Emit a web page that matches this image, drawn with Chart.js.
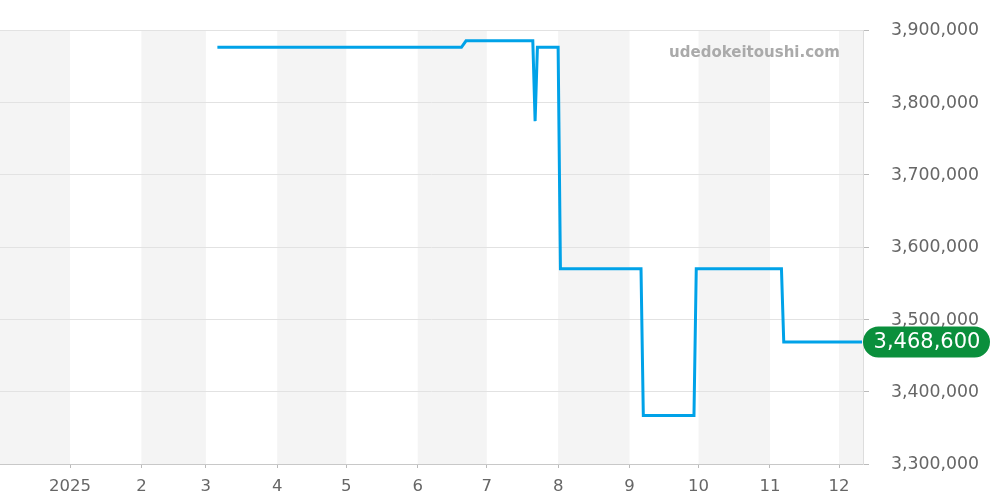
<!doctype html>
<html lang="ja">
<head>
    <meta charset="UTF-8">
    <script src="https://cdn.jsdelivr.net/npm/chart.js@4.4.1/dist/chart.umd.min.js"></script>
    <title>Price history</title>
    <style>
        * { margin: 0; padding: 0; box-sizing: border-box; }
        body { background: #fff; }
        .wrap { width: 1000px; height: 500px; position: relative; }
    </style>
</head>
<body>
<div class="wrap">
    <canvas id="canvas" width="1000" height="500"></canvas>
</div>
<script>
    // dates of the price points (2025)
    const dates = [
        '2025-03-06', '2025-06-20', '2025-06-22', '2025-07-21', '2025-07-22',
        '2025-07-23', '2025-08-01', '2025-08-02', '2025-09-06', '2025-09-07',
        '2025-09-29', '2025-09-30', '2025-11-06', '2025-11-07', '2025-12-11'
    ];
    // prices (yen)
    const prices = [
        3876000, 3876000, 3885000, 3885000, 3774000,
        3876000, 3876000, 3570000, 3570000, 3367000,
        3367000, 3570000, 3570000, 3468600, 3468600
    ];
    const yTicks = [3300000, 3400000, 3500000, 3600000, 3700000, 3800000, 3900000];
    const monthTicks = ['2025-01-01', '2025-02-01', '2025-03-01', '2025-04-01', '2025-05-01', '2025-06-01',
        '2025-07-01', '2025-08-01', '2025-09-01', '2025-10-01', '2025-11-01', '2025-12-01'];
    const lastPrice = 3468600;
    const watermark = 'udedokeitoushi.com';

    const day = 86400000;
    const toMs = (s) => Date.parse(s + 'T00:00:00Z');
    const xMin = toMs('2024-12-01') + 0.58 * day;
    const xMax = toMs('2025-12-11') + 0.42 * day;
    const fmt = (v) => v.toLocaleString('en-US');

    // alternating month bands behind the chart
    const bands = {
        id: 'bands',
        beforeDraw(chart) {
            const {ctx, chartArea: a, scales: {x}} = chart;
            ctx.save();
            ctx.beginPath();
            ctx.rect(a.left, a.top, a.right - a.left, a.bottom - a.top);
            ctx.clip();
            ctx.fillStyle = '#f4f4f4';
            for (let i = 0; i < 13; i++) {
                if (i % 2) continue;
                const s = Date.UTC(2024, 11 + i, 1);
                const e = Date.UTC(2024, 12 + i, 1);
                const l = x.getPixelForValue(s), r = x.getPixelForValue(e);
                ctx.fillRect(l, a.top, r - l, a.bottom - a.top);
            }
            ctx.restore();
        }
    };

    // watermark and last price badge
    const extras = {
        id: 'extras',
        afterDraw(chart) {
            const {ctx, chartArea: a, scales: {y}} = chart;
            ctx.save();
            ctx.font = 'bold 15px "DejaVu Sans"';
            ctx.fillStyle = '#aaaaaa';
            ctx.textAlign = 'right';
            ctx.textBaseline = 'middle';
            ctx.fillText(watermark, a.right - 23, a.top + 23);

            const py = y.getPixelForValue(lastPrice);
            const h = 31, w = 127, x0 = a.right;
            ctx.fillStyle = '#0a8f3c';
            ctx.beginPath();
            ctx.roundRect(x0, py - h / 2, w, h, h / 2);
            ctx.fill();
            ctx.font = '21px "DejaVu Sans"';
            ctx.fillStyle = '#ffffff';
            ctx.textAlign = 'center';
            ctx.fillText(fmt(lastPrice), x0 + w / 2 + 0.5, py + 1);
            ctx.restore();
        }
    };

    const ctx = document.getElementById('canvas').getContext('2d');
    new Chart(ctx, {
        type: 'line',
        data: {
            datasets: [{
                data: dates.map((d, i) => ({x: toMs(d), y: prices[i]})),
                borderColor: '#00a2e8',
                borderWidth: 3,
                pointRadius: 0,
                tension: 0,
                fill: false
            }]
        },
        options: {
            responsive: false,
            animation: false,
            devicePixelRatio: 1,
            layout: {padding: {top: 30, left: 0, right: 0, bottom: 0}},
            plugins: {legend: {display: false}, tooltip: {enabled: false}},
            scales: {
                x: {
                    type: 'linear',
                    min: xMin,
                    max: xMax,
                    afterBuildTicks: (s) => { s.ticks = monthTicks.map((m) => ({value: toMs(m)})); },
                    afterFit: (s) => { s.height = 36; },
                    grid: {drawOnChartArea: false, tickLength: 4, color: '#bbbbbb'},
                    border: {color: '#c8c8c8'},
                    ticks: {
                        autoSkip: false,
                        maxRotation: 0,
                        padding: 9,
                        color: '#666666',
                        font: {family: '"DejaVu Sans"', size: 16.5},
                        callback: (v) => {
                            const d = new Date(v);
                            return d.getUTCMonth() === 0 ? String(d.getUTCFullYear()) : String(d.getUTCMonth() + 1);
                        }
                    }
                },
                y: {
                    position: 'right',
                    min: 3300000,
                    max: 3900000,
                    afterBuildTicks: (s) => { s.ticks = yTicks.map((v) => ({value: v})); },
                    afterFit: (s) => { s.width = 137; s.paddingTop = 0; s.paddingBottom = 0; },
                    grid: {color: '#e2e2e2', tickLength: 6, tickColor: '#bbbbbb'},
                    border: {color: '#dddddd'},
                    ticks: {
                        padding: 22,
                        labelOffset: 1,
                        color: '#666666',
                        font: {family: '"DejaVu Sans"', size: 17.3},
                        callback: (v) => fmt(v)
                    }
                }
            }
        },
        plugins: [bands, extras]
    });
</script>
</body>
</html>
